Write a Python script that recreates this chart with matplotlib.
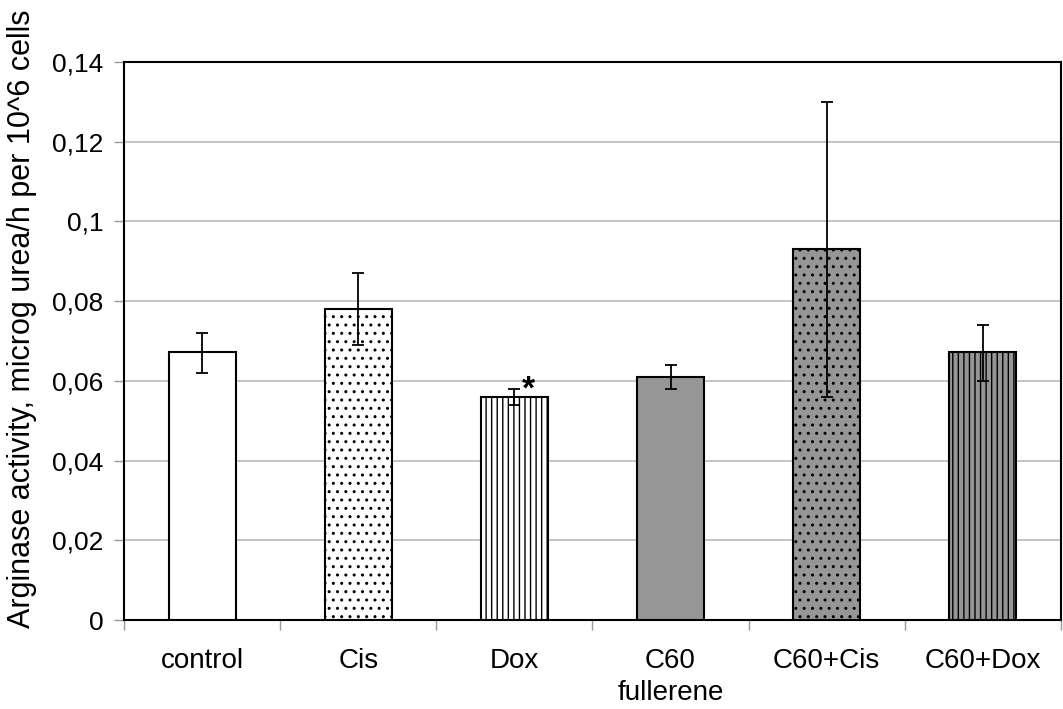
import matplotlib
matplotlib.use('Agg')
import matplotlib.pyplot as plt
import numpy as np

plt.rcParams['font.family'] = ['Liberation Sans', 'DejaVu Sans']
plt.rcParams['hatch.linewidth'] = 1.0

groups = ['control', 'Cis', 'Dox', 'C60\nfullerene', 'C60+Cis', 'C60+Dox']
activity = [0.0672, 0.078, 0.056, 0.061, 0.093, 0.0672]
err_low = [0.062, 0.069, 0.054, 0.058, 0.056, 0.060]
err_high = [0.072, 0.087, 0.058, 0.064, 0.130, 0.074]
fills = ['white', 'white', 'white', '#969696', '#969696', '#969696']
hatches = ['', '..', '|||', '', '..', '|||']

fig = plt.figure(figsize=(10.63, 7.09), dpi=100)
ax = fig.add_axes([0.1167, 0.1255, 0.8813, 0.7871])

x = np.arange(len(groups))
yerr = [np.array(activity) - np.array(err_low), np.array(err_high) - np.array(activity)]
for i in range(len(groups)):
    ax.bar(x[i], activity[i], width=0.43, color=fills[i], hatch=hatches[i],
           edgecolor='black', linewidth=1.5, zorder=3)
ax.errorbar(x, activity, yerr=yerr, fmt='none', ecolor='black',
            elinewidth=1.3, capsize=4, capthick=1.3, zorder=4)

# significance mark on Dox
ax.text(x[2] + 0.09, 0.0537, '*', fontsize=24, fontweight='bold',
        ha='center', va='bottom', zorder=5)

ax.set_xlim(-0.5, len(groups) - 0.5)
ax.set_ylim(0, 0.14)
ax.set_yticks(np.arange(0, 0.141, 0.02))
ax.set_yticklabels(['0', '0,02', '0,04', '0,06', '0,08', '0,1', '0,12', '0,14'])
ax.yaxis.grid(True, color='#c0c0c0', linewidth=1.3, zorder=0)
ax.set_axisbelow(True)

ax.set_xticks(x)
ax.set_xticklabels(groups, linespacing=1.3)
ax.set_xticks(np.arange(-0.5, len(groups)), minor=True)
ax.tick_params(axis='x', which='major', length=0, pad=20, labelsize=20)
ax.tick_params(axis='x', which='minor', length=7, color='#999999', width=1)
ax.tick_params(axis='y', length=7, color='#999999', width=1, labelsize=19, pad=8)

for s in ax.spines.values():
    s.set_linewidth(1.5)

ax.set_ylabel('Arginase activity, microg urea/h per 10^6 cells', fontsize=22)
ax.yaxis.set_label_coords(-0.093, 0.54)

fig.savefig('out.png', dpi=100)
